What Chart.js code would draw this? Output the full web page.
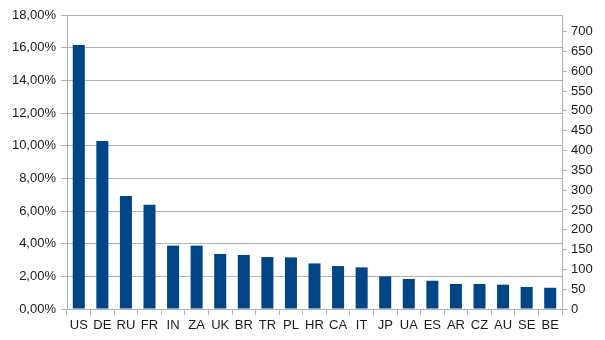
<!DOCTYPE html>
<html>
<head>
<meta charset="utf-8">
<script src="https://cdn.jsdelivr.net/npm/chart.js@4/dist/chart.umd.min.js"></script>
<style>
  html, body { margin: 0; padding: 0; background: #fff; }
  #wrap { width: 605px; height: 340px; position: relative; }
</style>
</head>
<body>
<div id="wrap"><canvas id="shareChart"></canvas></div>
<script>
// country codes and their share (percent)
const countries = ["US","DE","RU","FR","IN","ZA","UK","BR","TR","PL","HR","CA","IT","JP","UA","ES","AR","CZ","AU","SE","BE"]
const share = [16.16, 10.28, 6.92, 6.38, 3.88, 3.88, 3.37, 3.31, 3.18, 3.16, 2.79, 2.63, 2.55, 2.00, 1.84, 1.73, 1.53, 1.53, 1.49, 1.35, 1.30]

// axis ranges
const pctMax = 18
const pctStep = 2
const countMax = 742
const countStep = 50

const gridColor = "#b3b3b3"
const textColor = "#1a1a1a"

Chart.defaults.font.family = "'Liberation Sans', Arial, sans-serif"
Chart.defaults.font.size = 13
Chart.defaults.color = textColor

function pctLabel(v){
    return v.toFixed(2).replace(".", ",") + "%"
}

new Chart(document.getElementById("shareChart"), {
    type: "bar",
    data: {
        labels: countries,
        datasets: [{
            data: share,
            yAxisID: "y",
            backgroundColor: "#004586",
            borderWidth: 0,
            categoryPercentage: 1,
            barPercentage: 0.51
        }]
    },
    options: {
        responsive: true,
        maintainAspectRatio: false,
        animation: false,
        layout: { padding: { top: 15, left: 0, right: 0, bottom: 0 } },
        plugins: {
            legend: { display: false },
            tooltip: { enabled: false }
        },
        scales: {
            x: {
                offset: true,
                grid: {
                    offset: true,
                    drawOnChartArea: false,
                    color: gridColor,
                    tickLength: 6
                },
                border: { color: gridColor },
                ticks: { padding: 3, maxRotation: 0, autoSkip: false },
                afterFit: function(s){ s.height = 31 }
            },
            y: {
                position: "left",
                min: 0,
                max: pctMax,
                ticks: {
                    stepSize: pctStep,
                    padding: 5,
                    callback: function(v){ return pctLabel(v) }
                },
                grid: { color: gridColor, tickLength: 6 },
                border: { color: gridColor },
                afterFit: function(s){ s.width = 67 }
            },
            y2: {
                position: "right",
                min: 0,
                max: countMax,
                ticks: { stepSize: countStep, padding: 4 },
                grid: { drawOnChartArea: false, color: gridColor, tickLength: 5 },
                border: { color: gridColor },
                // only whole steps get a tick, not the top of the range
                afterBuildTicks: function(s){
                    s.ticks = s.ticks.filter(function(t){ return t.value % countStep === 0 })
                },
                afterFit: function(s){ s.width = 43 }
            }
        }
    }
})
</script>
</body>
</html>
